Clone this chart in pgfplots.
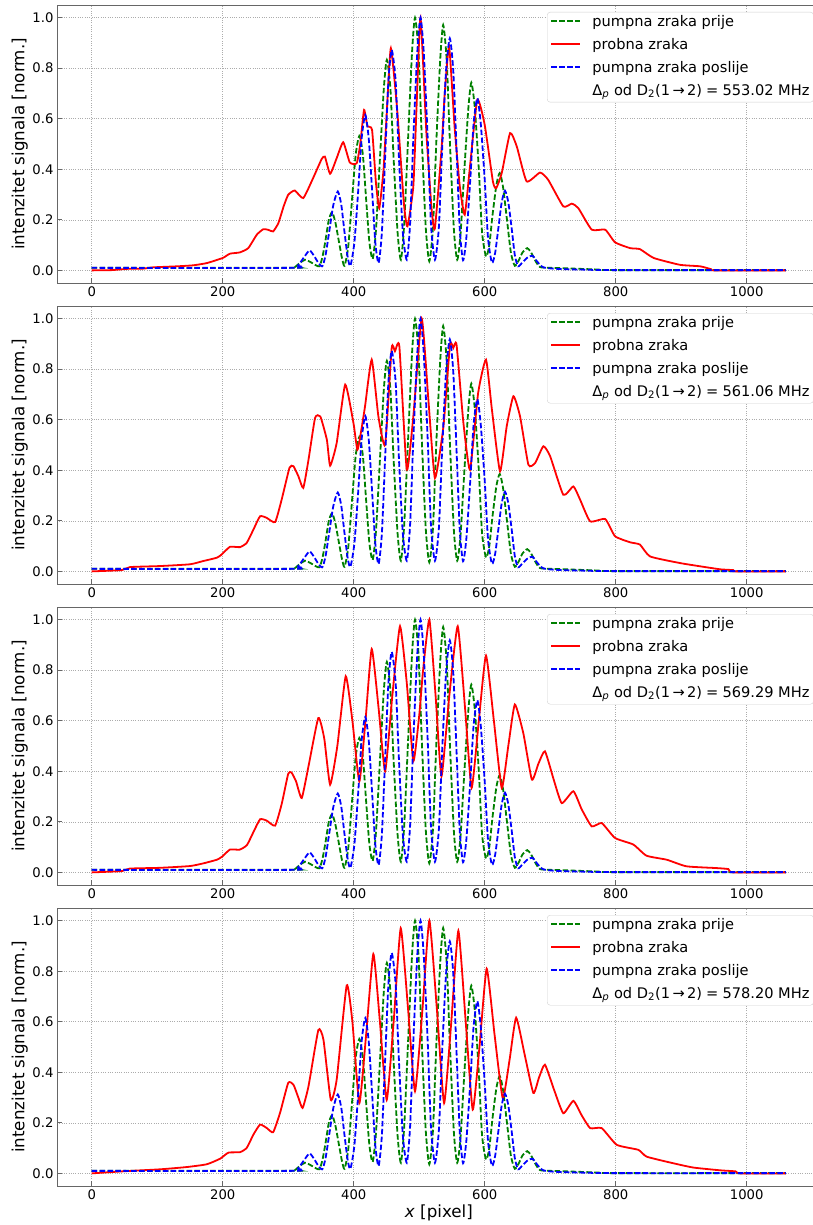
\documentclass[border=0pt]{standalone}
\usepackage{fontspec}
\setmainfont{DejaVu Sans}
\usepackage{pgfplots}
\usepackage{pgfplotstable}
\pgfplotsset{compat=1.18}

\pgfplotstableread{
x y
0 0.01
300 0.01
310 0.013
318 0.03
326 0.042
336 0.03
347 0.016
352 0.05
357 0.12
362 0.2
367 0.23
372 0.19
377 0.12
382 0.05
386 0.018
391.6 0.093
397.3 0.275
403 0.457
408.6 0.532
414 0.457
419 0.28
424 0.11
429 0.045
434 0.16
440 0.44
446 0.72
450.6 0.833
456 0.72
461 0.44
467 0.15
472 0.042
477 0.18
483 0.52
489 0.86
493.6 1.0
499 0.86
504 0.52
510 0.17
515.4 0.036
521 0.17
526 0.5
532 0.83
536.6 0.971
542 0.83
547 0.5
553 0.16
558 0.042
563 0.14
569 0.4
575 0.64
579.6 0.743
585 0.64
591 0.4
596 0.15
602 0.055
607 0.1
612 0.22
618 0.34
623 0.385
628 0.33
634 0.2
640 0.07
646 0.018
652 0.04
658 0.072
665 0.088
671 0.07
678 0.035
684.5 0.013
700 0.01
725 0.008
776 0.003
800 0.001
1060 0.001
}\pretab

\pgfplotstableread{
x y
0 0.01
305 0.01
315 0.02
325 0.055
332.7 0.079
340 0.055
346 0.03
352 0.016
357 0.06
363 0.16
369 0.26
375.7 0.312
381 0.26
386 0.15
391 0.05
395 0.018
401 0.11
407 0.32
412 0.52
417.7 0.615
423 0.52
428 0.32
433 0.11
438 0.029
443 0.15
448 0.45
453 0.75
458 0.872
464 0.75
469 0.45
475 0.15
481 0.042
486 0.18
491 0.52
497 0.86
502 1.0
507 0.86
513 0.52
518 0.18
524 0.042
530 0.17
535 0.48
541 0.79
546.7 0.918
552 0.79
557 0.48
562 0.16
567 0.04
572 0.13
578 0.36
583 0.58
588.7 0.681
594 0.58
600 0.36
605 0.13
611 0.03
616 0.07
621 0.17
626 0.27
631 0.315
636 0.27
641 0.17
646 0.06
651 0.016
657 0.03
665 0.05
673 0.058
680 0.035
689.5 0.012
710 0.006
750 0.003
800 0.001
1060 0.001
}\posttab

\pgfplotstableread{
x y
0 0
30 0.001
55 0.006
79 0.007
94 0.012
130 0.016
155 0.02
176 0.029
200 0.049
211 0.066
226 0.071
239 0.088
252 0.141
262 0.163
270 0.16
277 0.154
285 0.187
293 0.253
300 0.299
310 0.316
323 0.286
338 0.365
351 0.44
356 0.45
364 0.382
374 0.444
384 0.507
394 0.427
404.6 0.424
410 0.5
415.8 0.635
421 0.57
428 0.556
434 0.345
439 0.246
445.5 0.398
451 0.65
456.7 0.879
466 0.648
476.6 0.266
482 0.174
491 0.332
496 0.65
502 1.0
511 0.543
519 0.24
524 0.167
534 0.477
539 0.70
545.7 0.885
554 0.569
562 0.332
569.5 0.22
577 0.398
588.7 0.675
600 0.576
612.5 0.352
617.5 0.325
626 0.385
638.7 0.543
649 0.49
664 0.352
684.5 0.387
697 0.358
720 0.253
733 0.264
743 0.246
763.4 0.161
784 0.161
799 0.111
822 0.088
837 0.084
858 0.049
898 0.022
929 0.016
945 0.005
950 0
1060 0
}\redA

\pgfplotstableread{
x y
0 0
46 0.005
58.5 0.017
104 0.021
150 0.028
170.5 0.041
191 0.054
198.5 0.067
211 0.097
226.5 0.096
236.7 0.113
247 0.166
257 0.218
267 0.212
280 0.195
290 0.284
302 0.41
308 0.416
315.6 0.376
323 0.33
331 0.442
341 0.607
349 0.613
359 0.521
364 0.418
374 0.508
387 0.739
399.6 0.587
405.6 0.481
411 0.55
417.3 0.653
427.5 0.838
437.7 0.613
448 0.501
458 0.884
463 0.871
469.7 0.89
481 0.402
491 0.613
503.8 1.0
514 0.679
524 0.369
537 0.574
547 0.897
552 0.884
557 0.897
567.5 0.587
577.6 0.402
590 0.706
602 0.838
611 0.64
623.4 0.396
633.6 0.574
643.8 0.693
654 0.613
666.7 0.422
677 0.429
689.6 0.495
700 0.455
720 0.303
735.4 0.336
745.6 0.284
761 0.198
784 0.207
799 0.139
822 0.115
837 0.106
852.5 0.059
898 0.033
929 0.02
960 0.008
979 0.005
982 0
1060 0
}\redB

\pgfplotstableread{
x y
0 0
46 0.005
58 0.015
104 0.018
150 0.025
171 0.036
191 0.05
199 0.062
211 0.09
226 0.09
237 0.108
247 0.16
257 0.21
267 0.205
280 0.185
290 0.27
300 0.39
305 0.395
312 0.36
320.6 0.294
331 0.42
346 0.611
355 0.53
364 0.347
375 0.5
387.8 0.776
398 0.6
408.6 0.36
418 0.6
427.5 0.884
438 0.65
448 0.40
459 0.7
470.7 0.974
481 0.75
491 0.44
500 0.62
506 0.802
515.5 1.0
525 0.7
534 0.38
546 0.7
558.8 0.974
570 0.65
580 0.334
591 0.6
602 0.858
614 0.6
626 0.334
636 0.5
646 0.664
659 0.55
672 0.367
682 0.43
692 0.479
705 0.37
717.6 0.274
735.4 0.321
748 0.25
763.4 0.182
778.7 0.195
799 0.136
827 0.11
847 0.066
878 0.05
908 0.024
954 0.017
972 0.013
979 0
1060 0
}\redC

\pgfplotstableread{
x y
0 0
53 0.009
104 0.016
145 0.025
175.6 0.036
196 0.058
208.7 0.082
226.5 0.084
236.7 0.101
247 0.154
257 0.193
267 0.18
277 0.163
287.6 0.24
300 0.358
308 0.351
315.6 0.299
322 0.259
331 0.345
346 0.567
353.8 0.529
365 0.291
374 0.371
389.3 0.744
398 0.6
408.6 0.278
419 0.55
430 0.868
440 0.6
450.4 0.291
461 0.6
471.8 0.97
483 0.65
493.6 0.325
505 0.65
515.5 1.0
527 0.65
538 0.278
549 0.6
559.8 0.96
571 0.6
581.7 0.252
592 0.5
603 0.81
615 0.55
627.5 0.298
638 0.45
648 0.616
661 0.47
674.3 0.318
683 0.38
692 0.43
706 0.33
720 0.238
735.4 0.287
748 0.23
761 0.179
778.7 0.179
801.6 0.113
834.7 0.093
847.4 0.066
888 0.04
918.7 0.023
960 0.012
983 0.008
990 0
1060 0
}\redD

\definecolor{mplgreen}{rgb}{0,0.5,0}
\pgfplotsset{
  panel/.style={
    width=763.7pt, height=278pt, scale only axis,
    xmin=-53, xmax=1113, ymin=-0.05, ymax=1.05,
    xtick={0,200,400,600,800,1000},
    ytick={0,0.2,0.4,0.6,0.8,1.0},
    grid=major,
    major grid style={gray!65, line width=0.55pt, dash pattern=on 0.8pt off 1.5pt},
    tick align=inside, tick pos=left, major tick length=5pt,
    axis line style={black!60, line width=0.8pt},
    every tick/.style={black!60, line width=0.8pt},
    /pgf/number format/assume math mode=true,
    ticklabel style={font=\fontsize{13.2}{15}\selectfont},
    xticklabel style={/pgf/number format/1000 sep={}},
    yticklabel style={/pgf/number format/fixed, /pgf/number format/fixed zerofill, /pgf/number format/precision=1},
    ylabel={intenzitet signala [norm.]},
    ylabel style={at={(axis description cs:-0.0488,0.5)}, anchor=center, font=\fontsize{16.7}{20}\selectfont},
    legend style={at={(1,1)}, anchor=north east, xshift=-7pt, yshift=-7pt,
      draw=black!18, rounded corners=3pt, fill=white,
      font=\fontsize{14.6}{17}\selectfont, inner xsep=4pt, inner ysep=3pt,
      row sep=8pt,
      nodes={inner ysep=0pt, inner xsep=0pt, text height=11pt, text depth=4pt},
      /tikz/every odd column/.append style={column sep=0pt}},
    legend cell align=left,
    legend image code/.code={},
  },
  pre/.style={color=mplgreen, line width=1.8pt, dash pattern=on 5.5pt off 2.4pt},
  probe/.style={color=red, line width=1.8pt},
  post/.style={color=blue, line width=1.8pt, dash pattern=on 5.5pt off 2.4pt},
}

\newcommand{\dashrule}[1]{\textcolor{#1}{\rule[4pt]{5.5pt}{2pt}\hspace{2.4pt}\rule[4pt]{5.5pt}{2pt}\hspace{2.4pt}\rule[4pt]{5.5pt}{2pt}\hspace{2.4pt}\rule[4pt]{5.5pt}{2pt}}}
\newcommand{\solidrule}[1]{\textcolor{#1}{\rule[4pt]{29.2pt}{2pt}}}
\newcommand{\detun}[1]{Δ\textsubscript{\textit{p}} od D\textsubscript{2}(1\,→\,2)\;=\;#1 MHz}
\newcommand{\panellegend}[1]{%
  \addlegendimage{empty legend}\addlegendentry{\dashrule{mplgreen}\hspace{12pt}pumpna zraka prije}
  \addlegendimage{empty legend}\addlegendentry{\solidrule{red}\hspace{12pt}probna zraka}
  \addlegendimage{empty legend}\addlegendentry{\dashrule{blue}\hspace{12pt}pumpna zraka poslije}
  \addlegendimage{empty legend}\addlegendentry{\hspace{41.2pt}\detun{#1}}}

\begin{document}
\begin{tikzpicture}
\useasboundingbox (0pt,0pt) rectangle (813pt,-1225pt);

\begin{axis}[panel, at={(57pt,-5pt)}, anchor=north west]
\panellegend{553.02}
\addplot[pre, smooth, tension=0.4, forget plot] table {\pretab};
\addplot[probe, smooth, tension=0.3, forget plot] table {\redA};
\addplot[post, smooth, tension=0.4, forget plot] table {\posttab};
\end{axis}

\begin{axis}[panel, at={(57pt,-306pt)}, anchor=north west]
\panellegend{561.06}
\addplot[pre, smooth, tension=0.4, forget plot] table {\pretab};
\addplot[probe, smooth, tension=0.3, forget plot] table {\redB};
\addplot[post, smooth, tension=0.4, forget plot] table {\posttab};
\end{axis}

\begin{axis}[panel, at={(57pt,-607pt)}, anchor=north west]
\panellegend{569.29}
\addplot[pre, smooth, tension=0.4, forget plot] table {\pretab};
\addplot[probe, smooth, tension=0.3, forget plot] table {\redC};
\addplot[post, smooth, tension=0.4, forget plot] table {\posttab};
\end{axis}

\begin{axis}[panel, at={(57pt,-908pt)}, anchor=north west,
  xlabel={\textit{x} [pixel]},
  xlabel style={at={(axis description cs:0.5,-0.097)}, anchor=center, font=\fontsize{16.7}{20}\selectfont}]
\panellegend{578.20}
\addplot[pre, smooth, tension=0.4, forget plot] table {\pretab};
\addplot[probe, smooth, tension=0.3, forget plot] table {\redD};
\addplot[post, smooth, tension=0.4, forget plot] table {\posttab};
\end{axis}
\end{tikzpicture}
\end{document}
